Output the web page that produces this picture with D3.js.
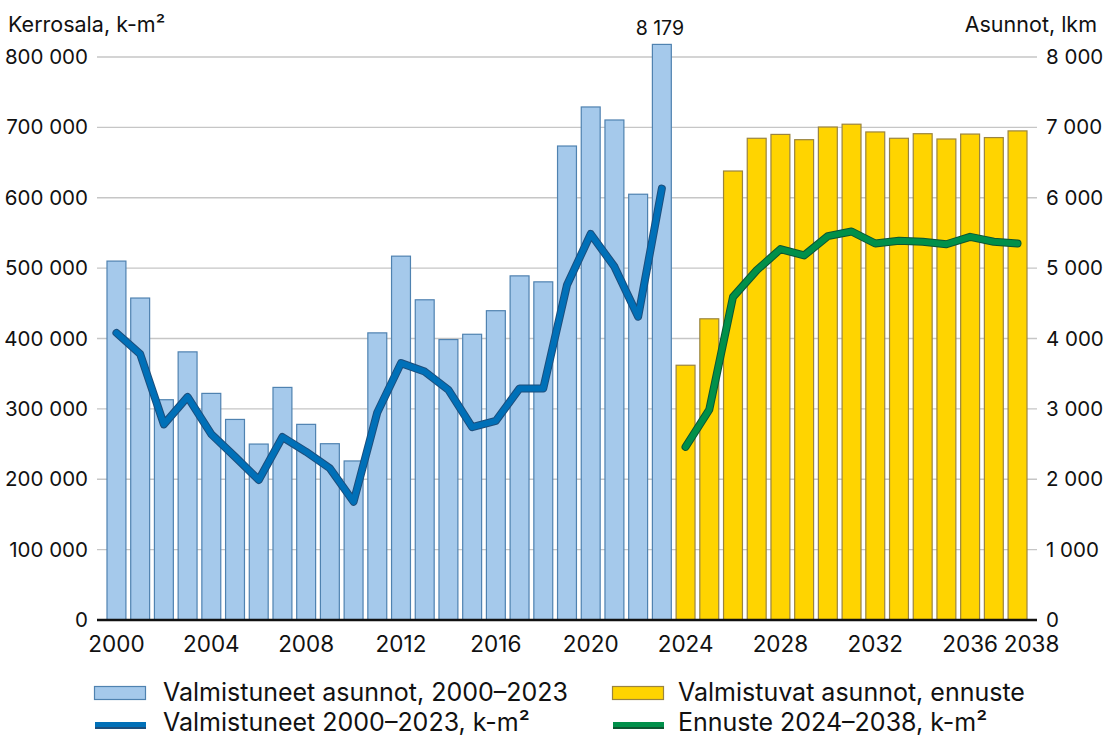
<!DOCTYPE html>
<html lang="fi">
<head>
<meta charset="utf-8">
<script src="https://cdn.jsdelivr.net/npm/d3@7"></script>
<style>
  html, body { margin: 0; padding: 0; background: #fff; }
  svg { display: block; font-family: Inter, "Liberation Sans", Arial, sans-serif; }
  .tick text { fill: #111; }
</style>
</head>
<body>
<svg id="chart" width="1105" height="736"></svg>
<script>
// Completed dwellings and floor area 2000–2023
const pastYears = [2000, 2001, 2002, 2003, 2004, 2005, 2006, 2007, 2008, 2009, 2010, 2011,
                   2012, 2013, 2014, 2015, 2016, 2017, 2018, 2019, 2020, 2021, 2022, 2023];
const pastDwellings = [5100, 4575, 3130, 3810, 3220, 2850, 2500, 3305, 2780, 2505, 2260, 4080,
                       5170, 4550, 3985, 4060, 4395, 4890, 4805, 6735, 7290, 7105, 6050, 8179];
const pastFloorArea = [408000, 378000, 278000, 317000, 264000, 232000, 199000, 260000, 239000, 215500, 168000, 295000,
                       365000, 353000, 327000, 274000, 283000, 329000, 329000, 476000, 548500, 502000, 431000, 613000];

// Forecast 2024–2038
const forecastYears = [2024, 2025, 2026, 2027, 2028, 2029, 2030, 2031, 2032, 2033, 2034, 2035, 2036, 2037, 2038];
const forecastDwellings = [3620, 4280, 6380, 6845, 6900, 6825, 7005, 7045, 6935, 6845, 6910, 6835, 6905, 6855, 6950];
const forecastFloorArea = [246000, 299000, 459000, 497000, 527000, 518000, 545500, 552000, 535000, 539000, 537500, 534000, 544500, 537500, 535000];

const xTickYears = [2000, 2004, 2008, 2012, 2016, 2020, 2024, 2028, 2032, 2036, 2038];
const leftTicks = [0, 100000, 200000, 300000, 400000, 500000, 600000, 700000, 800000];
const rightTicks = [0, 1000, 2000, 3000, 4000, 5000, 6000, 7000, 8000];

const leftTitle = "Kerrosala, k-m²";
const rightTitle = "Asunnot, lkm";
const legendItems = [
  { label: "Valmistuneet asunnot, 2000–2023", kind: "bar", fill: "#a5c9eb", stroke: "#4f82b0" },
  { label: "Valmistuvat asunnot, ennuste", kind: "bar", fill: "#ffd400", stroke: "#9a8440" },
  { label: "Valmistuneet 2000–2023, k-m²", kind: "line", fill: "#0070b8", stroke: "#1c4e7c" },
  { label: "Ennuste 2024–2038, k-m²", kind: "line", fill: "#00904a", stroke: "#0c5530" }
];

const FONT = "Inter, 'Liberation Sans', Arial, sans-serif";
const svg = d3.select("#chart");
const plot = { left: 97, right: 1037, top: 57, bottom: 620 };

const allYears = pastYears.concat(forecastYears);
const x = d3.scaleBand().domain(allYears).range([104.6, 1029.4]).paddingInner(0.16).paddingOuter(0.08);
const yLeft = d3.scaleLinear().domain([0, 800000]).range([plot.bottom, plot.top]);
const yRight = d3.scaleLinear().domain([0, 8000]).range([plot.bottom, plot.top]);

const fi = d3.formatLocale({ decimal: ",", thousands: " ", grouping: [3], currency: ["", " €"] });
const fmt = fi.format(",d");

// Gridlines
svg.append("g")
  .selectAll("line")
  .data(rightTicks.filter(d => d > 0))
  .join("line")
  .attr("x1", plot.left).attr("x2", plot.right)
  .attr("y1", d => yRight(d)).attr("y2", d => yRight(d))
  .attr("stroke", "#c6c6c6").attr("stroke-width", 1.3);

// Left axis (floor area)
const leftAxis = svg.append("g")
  .attr("transform", `translate(${plot.left},0)`)
  .call(d3.axisLeft(yLeft).tickValues(leftTicks).tickSize(0).tickPadding(9).tickFormat(fmt));
leftAxis.select(".domain").remove();
leftAxis.selectAll("text").attr("font-size", 20.5).attr("font-family", FONT);

// Right axis (dwellings)
const rightAxis = svg.append("g")
  .attr("transform", `translate(${plot.right},0)`)
  .call(d3.axisRight(yRight).tickValues(rightTicks).tickSize(0).tickPadding(9).tickFormat(fmt));
rightAxis.select(".domain").remove();
rightAxis.selectAll("text").attr("font-size", 20.5).attr("font-family", FONT);

// Axis titles
svg.append("text").attr("x", 8).attr("y", 32).attr("font-size", 21.5).attr("fill", "#111")
  .text(leftTitle);
svg.append("text").attr("x", 1097).attr("y", 32).attr("font-size", 21.5).attr("fill", "#111")
  .attr("text-anchor", "end").text(rightTitle);

// Bars
const pastBars = pastYears.map((yr, i) => ({ year: yr, value: pastDwellings[i] }));
const forecastBars = forecastYears.map((yr, i) => ({ year: yr, value: forecastDwellings[i] }));

svg.append("g").selectAll("rect")
  .data(pastBars).join("rect")
  .attr("x", d => x(d.year) + 0.5)
  .attr("width", x.bandwidth() - 1)
  .attr("y", d => yRight(d.value))
  .attr("height", d => plot.bottom - yRight(d.value))
  .attr("fill", legendItems[0].fill)
  .attr("stroke", legendItems[0].stroke).attr("stroke-width", 1.2);

svg.append("g").selectAll("rect")
  .data(forecastBars).join("rect")
  .attr("x", d => x(d.year) + 0.5)
  .attr("width", x.bandwidth() - 1)
  .attr("y", d => yRight(d.value))
  .attr("height", d => plot.bottom - yRight(d.value))
  .attr("fill", legendItems[1].fill)
  .attr("stroke", legendItems[1].stroke).attr("stroke-width", 1.2);

// Value label for the record year
const lastPast = pastBars[pastBars.length - 1];
svg.append("text")
  .attr("x", x(lastPast.year) + x.bandwidth() / 2 - 2)
  .attr("y", yRight(lastPast.value) - 9)
  .attr("text-anchor", "middle").attr("font-size", 19.5).attr("fill", "#111")
  .text(fmt(lastPast.value));

// Floor area lines
const line = d3.line()
  .x(d => x(d.year) + x.bandwidth() / 2)
  .y(d => yLeft(d.value));

function drawLine(data, color, edge) {
  const g = svg.append("g").attr("fill", "none").attr("stroke-linejoin", "round").attr("stroke-linecap", "round");
  g.append("path").datum(data).attr("d", line).attr("stroke", edge).attr("stroke-width", 8);
  g.append("path").datum(data).attr("d", line).attr("stroke", color).attr("stroke-width", 6);
}
drawLine(pastYears.map((yr, i) => ({ year: yr, value: pastFloorArea[i] })), legendItems[2].fill, legendItems[2].stroke);
drawLine(forecastYears.map((yr, i) => ({ year: yr, value: forecastFloorArea[i] })), legendItems[3].fill, legendItems[3].stroke);

// Baseline
svg.append("line")
  .attr("x1", plot.left).attr("x2", plot.right)
  .attr("y1", plot.bottom).attr("y2", plot.bottom)
  .attr("stroke", "#111").attr("stroke-width", 2.5);

// X axis labels
const xAxis = svg.append("g")
  .attr("transform", `translate(0,${plot.bottom})`)
  .call(d3.axisBottom(x).tickValues(xTickYears).tickSize(0).tickPadding(16));
xAxis.select(".domain").remove();
xAxis.selectAll("text").attr("font-size", 22.5).attr("font-family", FONT);
xAxis.selectAll(".tick").filter(d => d === 2038).select("text").attr("dx", 14);

// Legend
const legendPos = [
  { x: 94, y: 686, tx: 69 }, { x: 612, y: 686, tx: 66 },
  { x: 94, y: 721, tx: 69 }, { x: 612, y: 721, tx: 66 }
];
const legend = svg.append("g").selectAll("g")
  .data(legendItems).join("g")
  .attr("transform", (d, i) => `translate(${legendPos[i].x},${legendPos[i].y})`);

legend.filter(d => d.kind === "bar").append("rect")
  .attr("x", 0.5).attr("y", 0.5).attr("width", 51).attr("height", 13)
  .attr("fill", d => d.fill).attr("stroke", d => d.stroke).attr("stroke-width", 1.2);
legend.filter(d => d.kind === "line").append("rect")
  .attr("x", 1).attr("y", 1).attr("width", 51).attr("height", 7)
  .attr("fill", d => d.stroke);
legend.filter(d => d.kind === "line").append("rect")
  .attr("x", 1).attr("y", 1).attr("width", 51).attr("height", 5)
  .attr("fill", d => d.fill);

legend.append("text")
  .attr("x", (d, i) => legendPos[i].tx).attr("y", d => d.kind === "bar" ? 15 : 10)
  .attr("font-size", 25).attr("fill", "#111")
  .text(d => d.label);
</script>
</body>
</html>
